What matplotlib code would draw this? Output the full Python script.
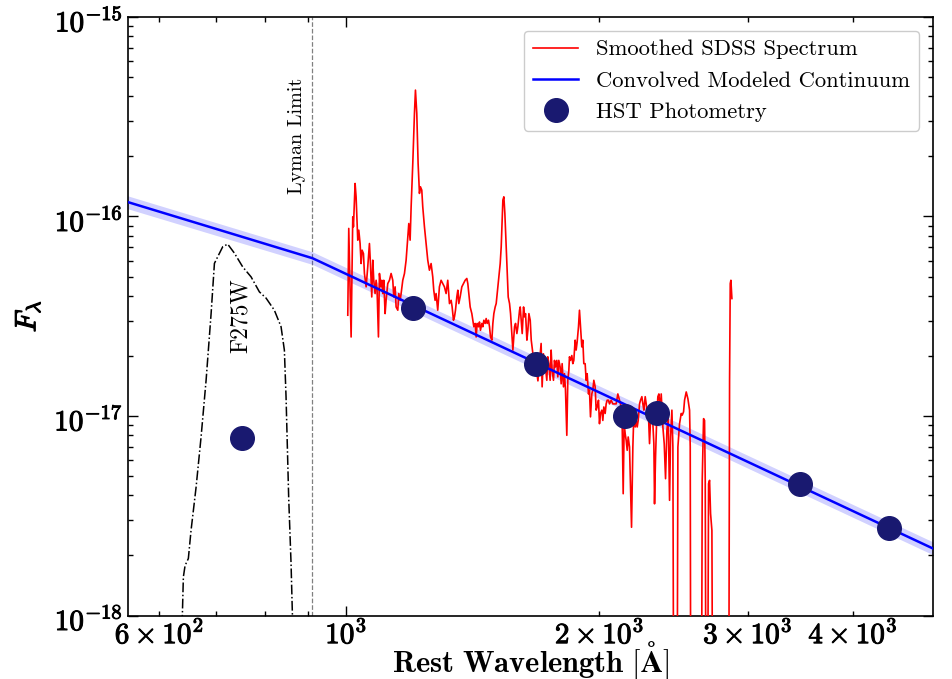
import numpy as np
import matplotlib
matplotlib.use('Agg')
import matplotlib.pyplot as plt
import matplotlib.patheffects as pe
import matplotlib.transforms as mtransforms
from matplotlib.ticker import FuncFormatter

plt.rcParams['font.family'] = 'serif'
plt.rcParams['font.serif'] = ['cmr10']
plt.rcParams['mathtext.fontset'] = 'cm'
plt.rcParams['axes.formatter.use_mathtext'] = True
plt.rcParams['axes.unicode_minus'] = False

# smoothed SDSS spectrum, rest wavelength [A] and flux [1e-17]
spec_wave = [1004.6, 1007.3, 1013.8, 1018.4, 1020.3, 1024.9, 1027.7, 1032.4, 1035.3, 1039.0,
             1041.9, 1044.7, 1048.6, 1051.4, 1056.3, 1061.0, 1065.9, 1068.8, 1072.7, 1075.7,
             1078.6, 1082.5, 1085.6, 1088.4, 1092.5, 1095.5, 1099.5, 1102.5, 1105.5, 1108.5,
             1112.6, 1115.6, 1120.7, 1125.9, 1131.0, 1136.2, 1139.3, 1143.5, 1146.6, 1151.9,
             1155.0, 1159.3, 1162.4, 1167.7, 1173.1, 1178.4, 1183.8, 1187.1, 1191.4, 1194.7,
             1200.1, 1205.6, 1208.9, 1213.3, 1217.7, 1222.2, 1225.5, 1230.0, 1233.3, 1239.0,
             1244.6, 1250.3, 1256.0, 1261.8, 1267.5, 1271.0, 1275.6, 1279.1, 1284.9, 1290.8,
             1296.7, 1302.6, 1308.6, 1314.6, 1320.6,
             1326.8, 1332.9, 1336.5, 1341.4, 1345.1, 1348.8, 1353.7, 1357.4, 1361.1, 1366.1,
             1372.4, 1378.7, 1385.0, 1391.3, 1395.1, 1398.9, 1404.1, 1410.5, 1414.4, 1418.2,
             1423.4, 1427.3, 1431.2, 1436.4, 1440.3, 1444.3, 1449.6, 1453.6, 1457.6, 1462.9,
             1466.9, 1470.9, 1476.3, 1480.4, 1484.5, 1489.9, 1494.0, 1498.1, 1503.5, 1507.7,
             1514.6, 1518.7, 1524.3, 1528.5, 1532.7, 1535.5, 1539.7, 1543.9, 1549.6, 1553.8,
             1558.1, 1563.8, 1568.1, 1573.8, 1578.1, 1585.3, 1589.7, 1595.5, 1599.8, 1607.2,
             1610.1, 1614.5, 1618.9, 1624.9, 1629.3, 1633.8, 1639.8, 1644.3, 1648.8, 1654.8,
             1659.4, 1667.0, 1676.0, 1690.0,
             1704.9, 1709.6, 1715.8, 1720.5, 1725.2, 1731.6, 1736.3, 1741.1, 1747.5, 1752.2,
             1757.0, 1763.5, 1768.3, 1773.1, 1779.6, 1784.5, 1789.4, 1796.0, 1800.9, 1805.8,
             1812.4, 1817.4, 1822.4, 1829.0, 1834.0, 1839.1, 1842.4, 1847.5, 1854.2, 1859.3,
             1864.4, 1871.2, 1876.3, 1881.5, 1888.4, 1893.5, 1898.7, 1905.6, 1910.9, 1916.1,
             1923.1, 1928.4, 1933.7, 1940.7, 1946.0, 1951.4, 1958.5, 1963.9, 1969.3, 1976.5,
             1981.9, 1987.3, 1994.6, 2000.0, 2005.5, 2012.9, 2018.4, 2023.9, 2031.3, 2036.9,
             2042.5, 2050.0, 2055.6, 2065.0, 2074.4, 2083.9, 2093.4, 2103.0, 2112.6, 2122.3,
             2128.1, 2134.0, 2139.8, 2145.7, 2151.6, 2157.5, 2163.4, 2171.3, 2177.3, 2183.3,
             2191.2, 2197.2, 2205.3, 2211.3, 2217.4, 2223.5, 2231.6,
             2237.7, 2245.9, 2252.0, 2258.2, 2266.5, 2272.7, 2278.9, 2287.2, 2293.5, 2299.8,
             2308.2, 2314.5, 2320.8, 2325.1, 2331.5, 2340.0, 2346.4, 2352.9, 2361.5, 2368.0,
             2378.8, 2387.5, 2396.2, 2405.0, 2413.8, 2422.6, 2429.3, 2438.2, 2444.8, 2451.6,
             2471.8, 2478.5, 2489.8, 2501.2, 2508.1, 2517.3, 2524.1, 2535.7, 2547.3, 2558.9,
             2563.6, 2568.2, 2606.0, 2641.9, 2649.1, 2658.8, 2666.1, 2671.0, 2678.3, 2685.7,
             2695.5, 2702.9, 2710.3, 2720.2, 2727.7, 2777.9, 2847.1, 2854.9, 2860.1, 2865.3,
             2873.2]
spec_flux = [3.20, 8.71, 2.49, 9.96, 8.88, 14.64, 12.55, 7.61, 8.54, 7.32,
             5.81, 6.78, 6.52, 5.18, 4.44, 5.59, 7.32, 5.81, 3.95, 6.04,
             4.79, 4.11, 4.79, 4.27, 2.49, 5.18, 4.44, 4.79, 4.11, 4.79,
             3.26, 3.80, 4.61, 4.79, 5.18, 4.79, 3.95, 4.44, 3.52, 3.39,
             4.11, 3.80, 4.11, 4.79, 5.18, 6.04, 7.91, 9.22, 7.61, 11.18,
             18.45, 32.9, 43.0, 32.9, 18.45, 13.05, 14.09, 13.56, 11.18, 8.88,
             7.32, 6.04, 5.38, 5.81, 4.98, 4.27, 3.80, 4.11, 3.39, 4.44,
             4.79, 4.61, 4.44, 4.11, 4.79,
             3.66, 3.80, 3.52, 3.02, 3.14, 3.39, 3.95, 4.27, 3.66, 3.95,
             4.44, 4.61, 4.79, 4.89, 4.61, 4.11, 3.52, 3.26, 3.02, 2.80,
             2.91, 2.49, 2.91, 2.80, 2.96, 2.69, 2.91, 2.80, 3.02, 2.91,
             3.08, 2.91, 3.02, 2.80, 2.49, 2.40, 2.91, 3.26, 3.52, 3.66,
             4.44, 4.98, 5.81, 7.04, 9.58, 12.08, 12.55, 10.35, 7.04, 5.18,
             3.95, 3.66, 3.26, 2.59, 2.14, 2.80, 2.91, 2.59, 2.80, 3.39,
             3.52, 3.02, 2.59, 3.52, 3.14, 3.26, 2.40, 2.69, 3.26, 3.02,
             2.40, 2.05, 1.95, 1.50,
             2.31, 1.40, 2.05, 1.69, 1.76, 1.51, 1.98, 1.83, 1.51, 2.14,
             1.69, 1.51, 1.90, 1.76, 1.90, 1.57, 1.90, 1.76, 1.45, 1.83,
             1.40, 1.63, 1.35, 0.80, 1.51, 1.69, 1.98, 1.90, 2.01, 1.83,
             1.90, 2.40, 2.14, 2.35, 2.80, 3.39, 2.80, 2.22, 2.40, 1.83,
             1.83, 1.51, 1.63, 1.29, 1.35, 0.99, 1.29, 1.35, 1.51, 1.40,
             1.07, 1.11, 1.20, 0.915, 1.03, 1.07, 0.95, 1.11, 1.03, 1.15,
             1.20, 1.20, 1.15, 1.20, 1.15, 1.15, 1.15, 1.29, 1.20, 1.11,
             0.915, 0.408, 0.915, 0.815, 0.755, 0.673, 0.785, 0.699, 0.440, 0.277,
             0.699, 1.03, 0.881, 0.95, 0.881, 0.95, 1.15,
             1.20, 1.25, 1.15, 1.07, 1.25, 1.15, 1.03, 0.99, 0.727, 0.95,
             1.07, 0.915, 0.727, 0.363, 0.623, 1.03, 1.25, 1.29, 1.07, 1.29,
             0.881, 0.727, 0.485, 0.847, 0.99, 0.378, 0.785, 1.07, 0.699, 0.01,
             0.01, 0.699, 0.915, 1.03, 1.01, 1.05, 1.20, 1.32, 1.22, 1.07,
             0.699, 0.01, 0.01, 0.01, 0.476, 0.97, 0.95, 0.476, 0.01, 0.01,
             0.458, 0.476, 0.324, 0.267, 0.01, 0.01, 0.01, 1.51, 4.61, 4.79,
             3.88]

# modeled continuum (knots) and its uncertainty band
cont_wave = [540, 912, 5000]
cont_flux = [1.21e-16, 6.18e-17, 2.15e-18]
cont_lo = [1.12e-16, 5.75e-17, 2.00e-18]
cont_hi = [1.30e-16, 6.65e-17, 2.32e-18]

# HST photometry
phot_wave = [753, 1202, 1679, 2147, 2344, 3457, 4410]
phot_flux = [7.73e-18, 3.47e-17, 1.82e-17, 9.96e-18, 1.03e-17, 4.54e-18, 2.73e-18]

# F275W throughput, scaled to the flux axis
filt_wave = [638.5, 640.7, 643.7, 649.5, 654.3, 663.4, 672.5, 681.8, 691.2, 697.5,
             703.8, 713.5, 723.3, 736.7, 753.6, 771.1, 788.8, 803.3, 821.8, 837.0,
             844.6, 848.5, 854.6, 860.2, 864.0]
filt_flux = [9.0e-19, 1.56e-18, 1.78e-18, 1.93e-18, 2.67e-18, 4.40e-18, 7.85e-18, 1.51e-17, 3.26e-17, 5.82e-17,
             6.28e-17, 7.05e-17, 7.27e-17, 6.55e-17, 5.59e-17, 4.98e-17, 4.19e-17, 3.90e-17, 3.39e-17, 2.80e-17,
             2.14e-17, 1.245e-17, 3.92e-18, 1.82e-18, 9.0e-19]

lyman_limit = 912.0
y_ticks = [1e-18, 1e-17, 1e-16, 1e-15]

fig = plt.figure(figsize=(9.52, 6.79), dpi=100)
ax = fig.add_axes([0.134, 0.0935, 0.846, 0.8815])

ax.plot(spec_wave, np.array(spec_flux) * 1e-17, color='red', lw=1.2,
        label='Smoothed SDSS Spectrum', zorder=3)
ax.fill_between(cont_wave, cont_lo, cont_hi, color='blue', alpha=0.18, lw=0, zorder=2)
ax.plot(cont_wave, cont_flux, color='blue', lw=1.8,
        label='Convolved Modeled Continuum', zorder=4)
ax.plot(phot_wave, phot_flux, 'o', color='#191970', ms=17, ls='none',
        label='HST Photometry', zorder=5)
ax.plot(filt_wave, filt_flux, color='black', ls='-.', lw=1.1, zorder=3)
ax.axvline(lyman_limit, color='gray', ls='--', lw=0.9, zorder=1)

ax.text(875, 2.55e-16, 'Lyman Limit', rotation=90, ha='center', va='center', fontsize=14.5)
ax.text(749, 3.2e-17, 'F275W', rotation=90, ha='center', va='center', fontsize=17)

ax.set_xscale('log')
ax.set_yscale('log')
ax.set_xlim(550, 4980)
ax.set_ylim(1e-18, 1e-15)


def xfmt(v, pos):
    e = int(np.floor(np.log10(v) + 1e-9))
    c = int(round(v / 10**e))
    if c == 1:
        return r'$\mathbf{10^{%d}}$' % e
    if c in (2, 3, 4, 6):
        return r'$\mathbf{%d\times10^{%d}}$' % (c, e)
    return ''


def yfmt(v, pos):
    e = int(round(np.log10(v)))
    return r'$\mathbf{10^{%d}}$' % e


ax.xaxis.set_major_formatter(FuncFormatter(xfmt))
ax.xaxis.set_minor_formatter(FuncFormatter(xfmt))
ax.set_yticks(y_ticks)
ax.yaxis.set_major_formatter(FuncFormatter(yfmt))

ax.tick_params(which='both', direction='in', top=True, right=True, labelsize=21, width=1)
ax.tick_params(which='major', length=7)
ax.tick_params(which='minor', length=3.5)
ax.tick_params(axis='x', which='both', pad=3)
for s in ax.spines.values():
    s.set_linewidth(1.2)

# heavier tick labels, y labels nudged down a little
bold = [pe.withStroke(linewidth=0.7, foreground='black')]
down = mtransforms.ScaledTranslation(0, -2 / 72, fig.dpi_scale_trans)
for t in ax.xaxis.get_major_ticks() + ax.xaxis.get_minor_ticks():
    t.label1.set_path_effects(bold)
for t in ax.yaxis.get_major_ticks():
    t.label1.set_path_effects(bold)
    t.label1.set_transform(t.label1.get_transform() + down)

ax.set_xlabel(r'$\mathbf{Rest\ Wavelength\ [\AA]}$', fontsize=22)
ax.xaxis.label.set_va('baseline')
ax.xaxis.set_label_coords(0.5, -0.095)
ax.set_ylabel(r'$F_{\lambda}$', fontsize=21, labelpad=8,
              path_effects=[pe.withStroke(linewidth=0.9, foreground='black')])

ax.legend(loc='upper right', fontsize=16.3, framealpha=1, edgecolor='#cccccc',
          borderaxespad=0.6, handlelength=2.0)

fig.savefig('out.png', dpi=100)
